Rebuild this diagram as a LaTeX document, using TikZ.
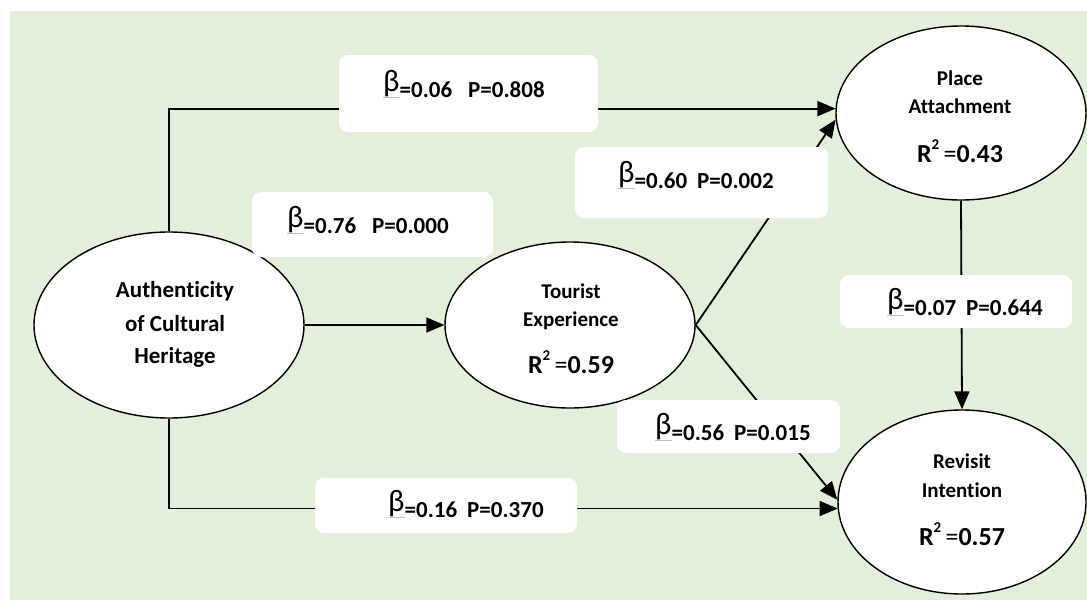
\documentclass[tikz,border=0pt]{standalone}
\usepackage{fontspec}
\setmainfont{Carlito}[Ligatures={NoCommon,NoRare,NoContextual}]
\usetikzlibrary{shapes.geometric,arrows.meta}
\definecolor{bggreen}{HTML}{E2EFD9}
\newsavebox\betabox
\newcommand\bet{\sbox\betabox{\fontsize{31}{31}\selectfont\mdseries β}\rlap{\color{black!25}\rule[-0.8pt]{\wd\betabox}{0.8pt}}\raisebox{\dp\betabox}{\usebox\betabox}}
\newcommand\rsq[1]{{\fontsize{26}{26}\selectfont\bfseries R\raisebox{0.48em}{\fontsize{15}{15}\selectfont 2}\,{\mdseries =}#1}}
\begin{document}
\begin{tikzpicture}[x=1pt,y=-1pt,
  latent/.style={ellipse, draw=black, line width=1.4pt, fill=white, inner sep=0pt},
  conn/.style={line width=1.8pt, -{Triangle[length=18pt,width=15pt]}},
  lab/.style={fill=white, rounded corners=9pt, inner sep=0pt},
  ltxt/.style={anchor=base west, inner sep=0pt, font=\bfseries\fontsize{23}{23}\selectfont},
  ntxt/.style={anchor=base, inner sep=0pt, font=\bfseries\fontsize{21}{21}\selectfont},
  btxt/.style={anchor=base, inner sep=0pt, font=\bfseries\fontsize{23}{23}\selectfont}]
\useasboundingbox (0,0) rectangle (1087,600);
\fill[bggreen] (10,11) rectangle (1087,600);
% latent variables
\node[latent, minimum width=270pt, minimum height=186pt] (AC) at (169,325) {};
\node[latent, minimum width=250pt, minimum height=166pt] (TE) at (570,325) {};
\node[latent, minimum width=250pt, minimum height=174pt] (PA) at (961,113) {};
\node[latent, minimum width=248pt, minimum height=184pt] (RI) at (962,502) {};
% connectors
\draw[conn] (AC.north) |- (PA.178);
\draw[conn] (AC.south) |- (RI.183);
\draw[conn] (AC.east) -- (TE.west);
\draw[conn] (TE.east) -- (PA.183);
\draw[conn] (TE.east) -- (RI.179);
\draw[conn] (PA.south) -- (RI.north);
% label boxes
\node[lab, minimum width=259pt, minimum height=77pt] (L1) at (468.5,93.5) {};
\node[lab, minimum width=241pt, minimum height=65pt] (L2) at (372.5,224.5) {};
\node[lab, minimum width=253pt, minimum height=71pt] (L3) at (701.5,182.5) {};
\node[lab, minimum width=232pt, minimum height=53pt] (L4) at (956,301.5) {};
\node[lab, minimum width=223pt, minimum height=53pt] (L5) at (728.5,426.5) {};
\node[lab, minimum width=262pt, minimum height=55pt] (L6) at (446,505.5) {};
\node[ltxt] (T1) at (383,97) {\bet=0.06\hspace{16pt}P=0.808};
\node[ltxt] (T2) at (287,233) {\bet=0.76\hspace{16pt}P=0.000};
\node[ltxt] (T3) at (618,188) {\bet=0.60\hspace{10pt}P=0.002};
\node[ltxt] (T4) at (887,315) {\bet=0.07\hspace{10pt}P=0.644};
\node[ltxt] (T5) at (655,440) {\bet=0.56\hspace{10pt}P=0.015};
\node[ltxt] (T6) at (388,517) {\bet=0.16\hspace{10pt}P=0.370};
% latent texts
\node[btxt] (AC1) at (175,297) {Authenticity};
\node[btxt] (AC2) at (175,331) {of Cultural};
\node[btxt] (AC3) at (175,363) {Heritage};
\node[ntxt] (TE1) at (571,298) {Tourist};
\node[ntxt] (TE2) at (571,326) {Experience};
\node[ntxt] (TE3) at (571,373) {\rsq{0.59}};
\node[ntxt] (PA1) at (960,85) {Place};
\node[ntxt] (PA2) at (960,113) {Attachment};
\node[ntxt] (PA3) at (960,162) {\rsq{0.43}};
\node[ntxt] (RI1) at (962,468) {Revisit};
\node[ntxt] (RI2) at (962,497) {Intention};
\node[ntxt] (RI3) at (962,545) {\rsq{0.57}};
\end{tikzpicture}
\end{document}
